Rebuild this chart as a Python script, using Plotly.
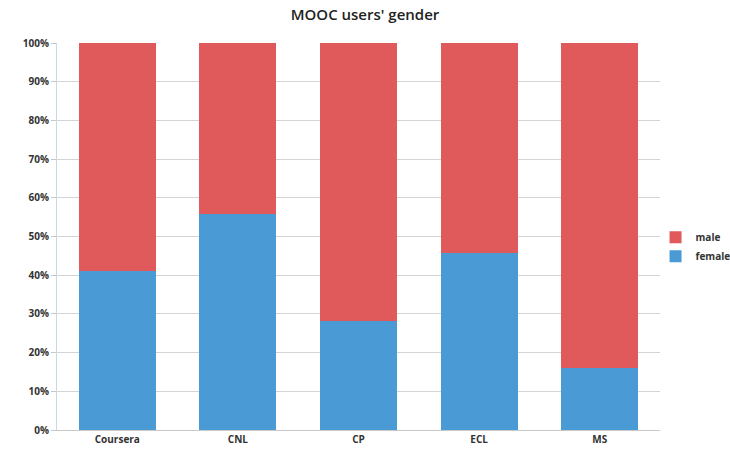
import plotly.graph_objects as go

# MOOC platforms and gender shares (percent)
platforms = ["Coursera", "CNL", "CP", "ECL", "MS"]
female = [41.2, 55.8, 28.2, 45.7, 15.9]
male = [58.8, 44.2, 71.8, 54.3, 84.1]
y_ticks = [0, 10, 20, 30, 40, 50, 60, 70, 80, 90, 100]
y_tick_labels = [f"{v}%" for v in y_ticks]

BLUE = "#4a9bd5"
RED = "#e05a5b"
FONT = "Open Sans"

fig = go.Figure()
fig.add_trace(go.Bar(name="female", x=platforms, y=female, marker=dict(color=BLUE, line=dict(width=0))))
fig.add_trace(go.Bar(name="male", x=platforms, y=male, marker=dict(color=RED, line=dict(width=0))))

fig.update_layout(
    width=730,
    height=461,
    barmode="stack",
    bargap=0.36,
    paper_bgcolor="white",
    plot_bgcolor="white",
    margin=dict(l=57, r=70, t=43, b=31, autoexpand=False),
    title=dict(
        text="MOOC users' gender",
        x=0.5,
        xanchor="center",
        y=0.968,
        yanchor="middle",
        font=dict(family=FONT, size=15, color="#222222", weight=600),
    ),
    legend=dict(
        xref="container",
        yref="container",
        x=0.898,
        xanchor="left",
        y=0.465,
        yanchor="middle",
        traceorder="reversed",
        font=dict(family=FONT, size=10, color="#333333", weight="bold"),
        itemwidth=30,
        tracegroupgap=0,
        bgcolor="rgba(0,0,0,0)",
    ),
    xaxis=dict(
        showgrid=False,
        showline=True,
        linecolor="#c8c8c8",
        linewidth=1,
        ticks="",
        tickfont=dict(family=FONT, size=10, color="#333333", weight="bold"),
    ),
    yaxis=dict(
        range=[0, 100],
        tickvals=y_ticks,
        ticktext=y_tick_labels,
        showgrid=True,
        gridcolor="#d4d4d4",
        gridwidth=1,
        showline=True,
        linecolor="#c8d8e4",
        linewidth=1,
        ticks="outside",
        ticklen=5,
        tickcolor="#c8c8c8",
        tickfont=dict(family=FONT, size=10, color="#333333", weight="bold"),
        zeroline=False,
    ),
)

fig.write_html("out.html")
